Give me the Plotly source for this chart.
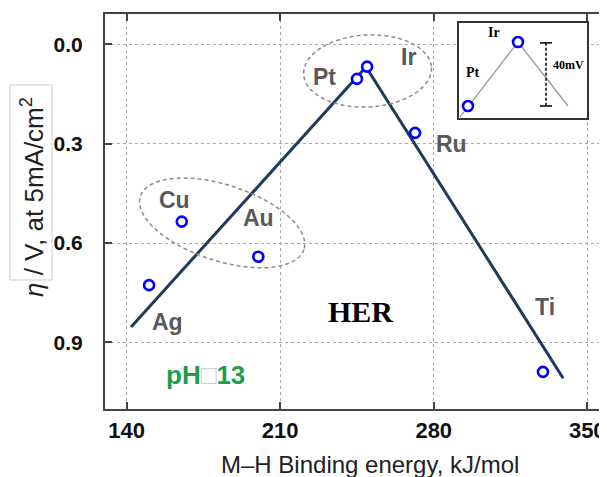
import numpy as np
import plotly.graph_objects as go

# ---- data ----
metals = ["Ag", "Cu", "Au", "Pt", "Ir", "Ru", "Ti"]
binding_energy = [150.2, 165.1, 200.0, 245.0, 249.6, 271.5, 329.8]
overpotential = [0.727, 0.535, 0.641, 0.104, 0.067, 0.267, 0.989]

volcano_x = [142.0, 249.1, 339.0]
volcano_y = [0.853, 0.068, 1.008]

label_x = [158.4, 162.0, 199.9, 230.0, 268.3, 288.3, 330.8]
label_y = [0.838, 0.470, 0.524, 0.098, 0.038, 0.301, 0.793]

x_ticks = [140, 210, 280, 350]
y_ticks = [0.0, 0.3, 0.6, 0.9]

# inset (schematic Pt vs Ir)
inset_names = ["Pt", "Ir"]
inset_x = [245.0, 250.0]
inset_y = [40.0, 0.0]   # mV
inset_line_x = [244.2, 250.0, 255.0]
inset_line_y = [47.0, 0.0, 40.0]

# ---- layout geometry (page has an 8px body margin) ----
OFF = 8
W, H = 607, 477
PL, PR, PT, PB = 105, 607, 14, 409          # plot area in window pixels
ML, MR, MT, MB = PL - OFF, W - (PR - OFF), PT - OFF, H - (PB - OFF)
XR = [130.1, 359.0]
YR = [1.101, -0.092]
pw, ph = PR - PL, PB - PT
sx = pw / (XR[1] - XR[0])
sy = ph / (YR[0] - YR[1])

def px_paper(px, py):
    return (px - PL) / pw, (PB - py) / ph

def ellipse_path(cx, cy, a_px, b_px, theta_deg, n=80):
    th = np.deg2rad(theta_deg)
    t = np.linspace(0, 2 * np.pi, n)
    dx = a_px * np.cos(t) * np.cos(th) - b_px * np.sin(t) * np.sin(th)
    dy = a_px * np.cos(t) * np.sin(th) + b_px * np.sin(t) * np.cos(th)
    xs = cx + dx / sx
    ys = cy + dy / sy
    p = "M %f,%f " % (xs[0], ys[0])
    p += " ".join("L %f,%f" % (u, v) for u, v in zip(xs[1:], ys[1:]))
    return p + " Z"

fig = go.Figure()

fig.add_trace(go.Scatter(x=volcano_x, y=volcano_y, mode="lines",
                         line=dict(color="#1f3a5c", width=3), hoverinfo="skip"))
fig.add_trace(go.Scatter(x=binding_energy, y=overpotential, mode="markers",
                         marker=dict(size=10, color="white",
                                     line=dict(color="#0000ff", width=2.6)),
                         text=metals))

# inset traces
fig.add_trace(go.Scatter(x=inset_line_x, y=inset_line_y, mode="lines",
                         line=dict(color="#999999", width=1.3),
                         xaxis="x2", yaxis="y2", hoverinfo="skip"))
fig.add_trace(go.Scatter(x=inset_x, y=inset_y, mode="markers",
                         marker=dict(size=10, color="white",
                                     line=dict(color="#0000ff", width=2.6)),
                         text=inset_names, xaxis="x2", yaxis="y2"))

ann = []
for name, lx, ly in zip(metals, label_x, label_y):
    ann.append(dict(x=lx, y=ly, xref="x", yref="y", text=name, showarrow=False,
                    font=dict(family="Liberation Sans, Arial", size=23,
                              color="#595959", weight="bold")))
ann.append(dict(x=246.4, y=0.808, xref="x", yref="y", text="HER", showarrow=False,
                font=dict(family="Liberation Serif, Times New Roman", size=30,
                          color="black", weight="bold")))
ann.append(dict(x=175.7, y=0.998, xref="x", yref="y",
                text="pH<span style='color:#cccccc'>□</span>13", showarrow=False,
                font=dict(family="Liberation Sans, Arial", size=26,
                          color="#1e9e4a", weight="bold")))
tx, ty = px_paper(370, 464)
ann.append(dict(x=tx, y=ty, xref="paper", yref="paper", xanchor="center",
                yanchor="middle", text="M\u2013H Binding energy, kJ/mol",
                showarrow=False,
                font=dict(family="Liberation Sans, Arial", size=24, color="#222")))
yx, yy = px_paper(32, 197)
ann.append(dict(x=yx, y=yy, xref="paper", yref="paper", xanchor="center",
                yanchor="middle",
                text="<i>η</i> / V, at 5mA/cm<sup>2</sup>", textangle=-90, showarrow=False,
                font=dict(family="Liberation Sans, Arial", size=26, color="#222")))
# inset labels
serif_small = dict(family="Liberation Serif, Times New Roman", size=14,
                   color="black", weight="bold")
ann.append(dict(x=247.6, y=-6.0, xref="x2", yref="y2", text="Ir",
                showarrow=False, font=serif_small))
ann.append(dict(x=245.5, y=18.8, xref="x2", yref="y2", text="Pt",
                showarrow=False, font=serif_small))
ann.append(dict(x=255.0, y=14.4, xref="x2", yref="y2", text="40mV",
                showarrow=False, font=dict(serif_small, size=12)))

bx0, by0 = px_paper(10, 280)
bx1, by1 = px_paper(52, 85)
shapes = [
    dict(type="rect", xref="paper", yref="paper", x0=bx0, x1=bx1, y0=by0, y1=by1,
         line=dict(color="#cccccc", width=1)),
    dict(type="path", xref="x", yref="y",
         path=ellipse_path(183.5, 0.539, 86, 38, 18),
         line=dict(color="#8c8c8c", width=1.5, dash="4px,3px")),
    dict(type="path", xref="x", yref="y",
         path=ellipse_path(249.8, 0.080, 64, 36, -3),
         line=dict(color="#8c8c8c", width=1.5, dash="4px,3px")),
    # 40 mV bar in inset
    dict(type="line", xref="x2", yref="y2", x0=252.8, x1=252.8, y0=0.5, y1=40,
         line=dict(color="black", width=1.5, dash="3px,2px")),
    dict(type="line", xref="x2", yref="y2", x0=252.2, x1=253.4, y0=0.5, y1=0.5,
         line=dict(color="black", width=1.5)),
    dict(type="line", xref="x2", yref="y2", x0=252.2, x1=253.4, y0=40, y1=40,
         line=dict(color="black", width=1.5)),
]

ix0, iy0 = px_paper(459, 118)
ix1, iy1 = px_paper(587, 23)

grid = dict(showgrid=True, gridcolor="#a8a8a8", gridwidth=1.3, griddash="3px,3px")

fig.update_layout(
    width=W, height=H,
    margin=dict(l=ML, r=MR, t=MT, b=MB, autoexpand=False),
    paper_bgcolor="white", plot_bgcolor="white",
    showlegend=False,
    annotations=ann, shapes=shapes,
    xaxis=dict(range=XR, tickvals=x_ticks, ticks="inside", ticklen=7,
               tickwidth=1.5, tickcolor="#444", showline=True, linecolor="#444",
               linewidth=2, mirror="ticks", zeroline=False,
               tickfont=dict(family="Liberation Sans, Arial", size=22,
                             color="#111", weight="bold"),
               ticklabelstandoff=1, **grid),
    yaxis=dict(range=YR, tickvals=y_ticks, tickformat=".1f", ticks="inside",
               ticklen=7, tickwidth=1.5, tickcolor="#444", showline=True,
               linecolor="#444", linewidth=2, mirror="ticks", zeroline=False,
               tickfont=dict(family="Liberation Sans, Arial", size=21,
                             color="#111", weight="bold"),
               ticklabelstandoff=16, **grid),
    xaxis2=dict(domain=[ix0, ix1], anchor="y2", range=[244.1, 256.9],
                showgrid=False, zeroline=False, showticklabels=False, ticks="",
                showline=True, linecolor="#333", linewidth=1.5, mirror=True),
    yaxis2=dict(domain=[iy0, iy1], anchor="x2", range=[47.5, -11.9],
                showgrid=False, zeroline=False, showticklabels=False, ticks="",
                showline=True, linecolor="#333", linewidth=1.5, mirror=True),
)

fig.write_html("out.html")
